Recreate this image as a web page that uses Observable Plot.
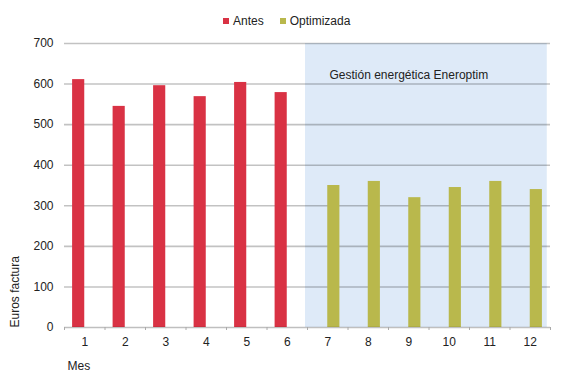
<!DOCTYPE html>
<html>
<head>
<meta charset="utf-8">
<script src="https://cdn.jsdelivr.net/npm/d3@7"></script>
<script src="https://cdn.jsdelivr.net/npm/@observablehq/plot@0.6"></script>
<style>
  html, body { margin: 0; padding: 0; background: #fff; }
  #wrap { position: relative; width: 564px; height: 382px; font-family: "Liberation Sans", Arial, sans-serif; }
  #legend { position: absolute; left: 223px; top: 4px; }
  #legend .lg-swatch > svg { margin-right: 4px !important; }
  #legend .lg-swatches-wrap .lg-swatch { margin-right: 16px !important; }
  #legend .lg-swatches { margin: 0 !important; }
</style>
</head>
<body>
<div id="wrap"><div id="chart"></div><div id="legend"></div></div>
<script>
// Data
const meses = [1, 2, 3, 4, 5, 6, 7, 8, 9, 10, 11, 12];
const antes = [611, 545, 596, 569, 604, 579];
const optimizada = [350, 360, 320, 345, 360, 340];
const series = ["Antes", "Optimizada"];
const colores = ["#D93244", "#B9B84C"];
const yTicks = [0, 100, 200, 300, 400, 500, 600, 700];
const zona = [{desde: 6.45, hasta: 12.42, etiqueta: "Gestión energética Eneroptim"}];
const ejeY = "Euros factura";
const ejeX = "Mes";

const filas = meses.map((m, i) => ({
  mes: m,
  serie: i < 6 ? series[0] : series[1],
  valor: i < 6 ? antes[i] : optimizada[i - 6]
}));
const limites = d3.range(0.5, 12.51, 1);
const ancho = 0.3;

const font = "'Liberation Sans', Arial, sans-serif";

const chart = Plot.plot({
  width: 564,
  height: 382,
  marginLeft: 64,
  marginRight: 14,
  marginTop: 43,
  marginBottom: 55,
  style: {fontFamily: font, fontSize: "12px", color: "#222", background: "transparent"},
  x: {type: "linear", domain: [0.5, 12.5]},
  y: {domain: [0, 700]},
  color: {domain: series, range: colores},
  marks: [
    Plot.rect(zona, {x1: "desde", x2: "hasta", y1: 0, y2: 700, fill: "#DEEAF8"}),
    Plot.ruleY(yTicks.filter(t => t > 0), {stroke: "#000", strokeOpacity: 0.24, strokeWidth: 1.6}),
    Plot.rect(filas, {
      x1: d => d.serie === series[0] ? d.mes - ancho : d.mes,
      x2: d => d.serie === series[0] ? d.mes : d.mes + ancho,
      y1: 0,
      y2: "valor",
      fill: "serie"
    }),
    Plot.ruleY([0], {stroke: "#000", strokeOpacity: 0.25, strokeWidth: 1.6}),
    Plot.axisX({ticks: limites, tickSize: 3, tickFormat: () => "", stroke: "#aaa", label: null}),
    Plot.axisX({ticks: meses, tickSize: 0, tickPadding: 10, tickFormat: d => String(d), label: null}),
    Plot.axisY({ticks: yTicks, tickSize: 0, tickPadding: 11, label: null}),
    Plot.text(zona, {x: "desde", text: "etiqueta", frameAnchor: "top", textAnchor: "start", dx: 24, dy: 27, fill: "#222"}),
    Plot.text([ejeY], {text: d => d, frameAnchor: "bottom-left", rotate: -90, textAnchor: "start", dx: -46, fill: "#222"}),
    Plot.text([ejeX], {text: d => d, frameAnchor: "bottom-left", textAnchor: "start", dx: 3, dy: 42, fill: "#222"})
  ]
});
document.getElementById("chart").appendChild(chart);

const leg = Plot.legend({
  color: {domain: series, range: colores},
  legend: "swatches",
  swatchSize: 6,
  className: "lg",
  style: {fontFamily: font, fontSize: "12px", color: "#222"}
});
document.getElementById("legend").appendChild(leg);
</script>
</body>
</html>
